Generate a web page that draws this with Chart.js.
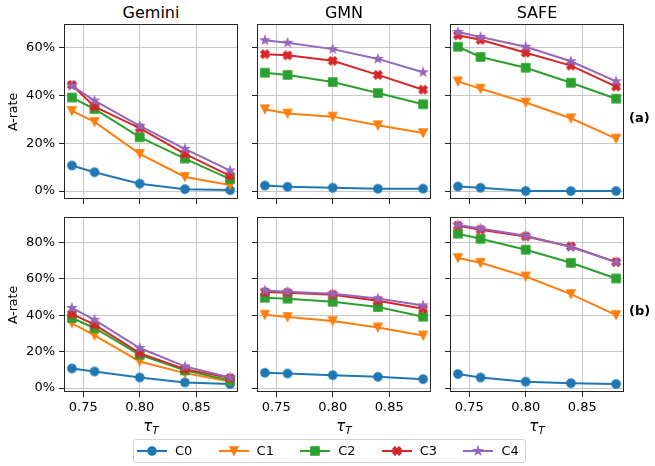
<!DOCTYPE html>
<html>
<head>
<meta charset="utf-8">
<script src="https://cdn.jsdelivr.net/npm/chart.js@4/dist/chart.umd.min.js"></script>
<style>
  html, body { margin: 0; padding: 0; background: #fff; }
  body { width: 655px; height: 466px; position: relative; overflow: hidden;
         font-family: "DejaVu Sans", sans-serif; color: #000; }
  canvas.panel { position: absolute; }
  .txt { position: absolute; white-space: nowrap; line-height: 1; }
  .title { font-size: 16px; transform: translate(-50%, -50%); }
  .ylab { font-size: 12.5px; transform: translate(-50%, -50%) rotate(-90deg); }
  .xlab { font-size: 15px; font-style: italic; transform: translate(-50%, -50%); }
  .xlab sub { font-size: 10.5px; vertical-align: -3px; }
  .row { font-size: 13px; font-weight: bold; transform: translateY(-50%); }
  #legend { position: absolute; left: 133px; top: 439px; width: 391px; height: 22px;
            border: 1px solid #d3d3d3; border-radius: 3px; background: #fff; }
  #legend .item { position: absolute; top: 4px; height: 14px; }
  #legend .item canvas { position: absolute; left: 0; top: 0; }
  #legend .item span { position: absolute; left: 38px; top: -1px; font-size: 13px; line-height: 16px; }
</style>
</head>
<body>
<script>
// Threshold values on the x axis and the tick labels used on each axis
const thresholds = [0.74, 0.76, 0.80, 0.84, 0.88];
const xTicks = [0.75, 0.80, 0.85];
const yTicksA = [0, 20, 40, 60];
const yTicksB = [0, 20, 40, 60, 80];
const seriesNames = ['C0', 'C1', 'C2', 'C3', 'C4'];
const methods = ['Gemini', 'GMN', 'SAFE'];
const rowTags = ['(a)', '(b)'];

// A-rate (%) per series C0..C4, row (a)
const geminiA = [
  [10.7, 7.9, 3.1, 0.8, 0.4],
  [33.6, 29.0, 15.6, 5.9, 2.5],
  [39.2, 34.4, 22.6, 13.6, 5.0],
  [44.5, 35.4, 26.4, 15.6, 6.4],
  [44.1, 37.9, 27.3, 17.7, 8.6]
];
const gmnA = [
  [2.3, 1.8, 1.4, 1.0, 1.0],
  [34.3, 32.5, 31.2, 27.6, 24.3],
  [49.6, 48.7, 45.7, 41.1, 36.4],
  [57.4, 56.9, 54.6, 48.7, 42.5],
  [63.2, 62.2, 59.5, 55.4, 49.8]
];
const safeA = [
  [1.9, 1.4, 0.0, 0.0, 0.0],
  [46.0, 42.9, 37.1, 30.5, 22.0],
  [60.5, 56.2, 51.7, 45.4, 38.7],
  [65.3, 63.4, 58.0, 52.6, 43.8],
  [66.7, 64.6, 60.5, 54.4, 46.0]
];

// A-rate (%) per series C0..C4, row (b)
const geminiB = [
  [10.8, 9.1, 5.8, 3.1, 2.2],
  [35.7, 28.9, 14.6, 8.2, 3.6],
  [38.5, 33.0, 18.3, 9.7, 4.2],
  [40.7, 34.8, 19.2, 10.4, 5.5],
  [44.0, 37.5, 22.0, 11.9, 5.8]
];
const gmnB = [
  [8.4, 8.0, 7.1, 6.2, 4.9],
  [40.3, 39.0, 36.8, 33.3, 28.9],
  [49.6, 49.1, 47.4, 44.5, 39.2],
  [52.7, 52.4, 51.3, 48.0, 43.6],
  [53.6, 52.9, 51.8, 49.2, 45.4]
];
const safeB = [
  [7.7, 5.8, 3.5, 2.7, 2.2],
  [71.4, 68.8, 61.3, 51.6, 40.1],
  [84.8, 82.0, 76.0, 68.8, 60.2],
  [89.2, 87.0, 83.3, 77.8, 69.2],
  [89.6, 87.7, 83.7, 77.5, 69.2]
];

const rows = [[geminiA, gmnA, safeA], [geminiB, gmnB, safeB]];
const rowTicks = [yTicksA, yTicksB];

// ---- styling / layout ----
const colors = ['#1f77b4', '#ff7f0e', '#2ca02c', '#d62728', '#9467bd'];
const markerKinds = ['circle', 'triangleDown', 'square', 'xFilled', 'star'];
const plotLefts = [64, 257, 450];
const plotTops = [24, 217];
const plotW = 174, plotH = 175;
const yAxisW = 52, xAxisH = 24;

function makeMarker(kind, color) {
  const c = document.createElement('canvas');
  c.width = 14; c.height = 14;
  const g = c.getContext('2d');
  g.translate(7, 7);
  g.fillStyle = color; g.strokeStyle = color;
  g.lineWidth = 1.3; g.lineJoin = 'miter';
  const s = 8.3;
  g.beginPath();
  if (kind === 'circle') {
    g.arc(0, 0, s / 2, 0, Math.PI * 2);
  } else if (kind === 'triangleDown') {
    g.moveTo(0, s / 2); g.lineTo(-s / 2, -s / 2); g.lineTo(s / 2, -s / 2); g.closePath();
  } else if (kind === 'square') {
    g.rect(-s / 2, -s / 2, s, s);
  } else if (kind === 'xFilled') {
    const pts = [[-1, -2], [0, -1], [1, -2], [2, -1], [1, 0], [2, 1],
                 [1, 2], [0, 1], [-1, 2], [-2, 1], [-1, 0], [-2, -1]];
    pts.forEach((p, i) => {
      const x = p[0] / 4 * s, y = p[1] / 4 * s;
      if (i === 0) g.moveTo(x, y); else g.lineTo(x, y);
    });
    g.closePath();
  } else if (kind === 'star') {
    const ro = s / 2, ri = ro * 0.381966;
    for (let i = 0; i < 10; i++) {
      const r = i % 2 === 0 ? ro : ri;
      const a = -Math.PI / 2 + i * Math.PI / 5;
      const x = r * Math.cos(a), y = r * Math.sin(a);
      if (i === 0) g.moveTo(x, y); else g.lineTo(x, y);
    }
    g.closePath();
  }
  g.fill(); g.stroke();
  return c;
}
const markers = markerKinds.map((k, i) => makeMarker(k, colors[i]));

// 5% margins around the data, as the axes autoscale
const xPad = (thresholds[thresholds.length - 1] - thresholds[0]) * 0.05;
const xMin = thresholds[0] - xPad, xMax = thresholds[thresholds.length - 1] + xPad;
function yRange(panels) {
  const all = panels.flat(2);
  const lo = Math.min(...all), hi = Math.max(...all);
  const p = (hi - lo) * 0.05;
  return [lo - p, hi + p];
}

const framePlugin = {
  id: 'frame',
  afterDraw(chart) {
    const { ctx, chartArea: a } = chart;
    ctx.save();
    ctx.strokeStyle = '#262626';
    ctx.lineWidth = 1;
    const l = Math.round(a.left) + 0.5, t = Math.round(a.top) + 0.5;
    ctx.strokeRect(l, t, Math.round(a.right) - Math.round(a.left) - 1, Math.round(a.bottom) - Math.round(a.top) - 1);
    ctx.restore();
  }
};

const tickFont = { family: 'DejaVu Sans', size: 13 };

rows.forEach((panels, r) => {
  const [yMin, yMax] = yRange(panels);
  panels.forEach((series, c) => {
    const cv = document.createElement('canvas');
    cv.className = 'panel';
    const W = yAxisW + plotW + 3, H = 1 + plotH + xAxisH;
    cv.width = W; cv.height = H;
    cv.style.left = (plotLefts[c] - yAxisW) + 'px';
    cv.style.top = (plotTops[r] - 1) + 'px';
    document.body.appendChild(cv);

    const datasets = series.map((vals, i) => ({
      label: seriesNames[i],
      data: thresholds.map((t, k) => ({ x: t, y: vals[k] })),
      borderColor: colors[i],
      backgroundColor: colors[i],
      borderWidth: 2,
      tension: 0,
      pointStyle: markers[i],
      pointRadius: 5,
      order: seriesNames.length - i
    }));

    new Chart(cv, {
      type: 'line',
      data: { datasets },
      plugins: [framePlugin],
      options: {
        responsive: false,
        animation: false,
        events: [],
        layout: { autoPadding: false, padding: { top: 1, right: 3, left: 0, bottom: 0 } },
        plugins: { legend: { display: false }, tooltip: { enabled: false } },
        scales: {
          x: {
            type: 'linear', min: xMin, max: xMax,
            afterBuildTicks: s => { s.ticks = xTicks.map(v => ({ value: v })); },
            afterFit: s => { s.height = xAxisH; s.paddingLeft = 0; s.paddingRight = 0; },
            border: { display: false },
            grid: { color: '#c8c8c8', lineWidth: 1, drawTicks: true, tickLength: 5,
                    tickColor: '#262626', tickWidth: 1 },
            ticks: { display: r === 1, padding: 3, color: '#000', font: tickFont,
                     maxRotation: 0, callback: v => v.toFixed(2) }
          },
          y: {
            type: 'linear', min: yMin, max: yMax,
            afterBuildTicks: s => { s.ticks = rowTicks[r].map(v => ({ value: v })); },
            afterFit: s => { s.width = yAxisW; s.paddingTop = 0; s.paddingBottom = 0; },
            border: { display: false },
            grid: { color: '#c8c8c8', lineWidth: 1, drawTicks: true, tickLength: 5,
                    tickColor: '#262626', tickWidth: 1 },
            ticks: { display: c === 0, padding: 4, color: '#000', font: tickFont,
                     callback: v => v + '%' }
          }
        }
      }
    });
  });
});

// text labels
function addText(cls, html, x, y) {
  const d = document.createElement('div');
  d.className = 'txt ' + cls;
  d.innerHTML = html;
  d.style.left = x + 'px';
  d.style.top = y + 'px';
  document.body.appendChild(d);
}
methods.forEach((m, c) => {
  const cx = plotLefts[c] + plotW / 2;
  addText('title', m, cx, 12.5);
  addText('xlab', 'τ<sub>T</sub>', cx, 427);
});
plotTops.forEach((t, r) => {
  addText('ylab', 'A-rate', 13, t + plotH / 2);
  addText('row', rowTags[r], 629, t + plotH / 2 + 5);
});

// legend
const legend = document.createElement('div');
legend.id = 'legend';
document.body.appendChild(legend);
seriesNames.forEach((name, i) => {
  const item = document.createElement('div');
  item.className = 'item';
  item.style.left = (3 + i * 81.6) + 'px';
  const cv = document.createElement('canvas');
  cv.width = 30; cv.height = 14;
  const g = cv.getContext('2d');
  g.strokeStyle = colors[i]; g.lineWidth = 2;
  g.beginPath(); g.moveTo(0, 7); g.lineTo(30, 7); g.stroke();
  Chart.helpers.drawPoint(g, { pointStyle: markers[i], radius: 5, rotation: 0, borderWidth: 0 }, 15, 7);
  item.appendChild(cv);
  const sp = document.createElement('span');
  sp.textContent = name;
  item.appendChild(sp);
  legend.appendChild(item);
});
</script>
</body>
</html>
